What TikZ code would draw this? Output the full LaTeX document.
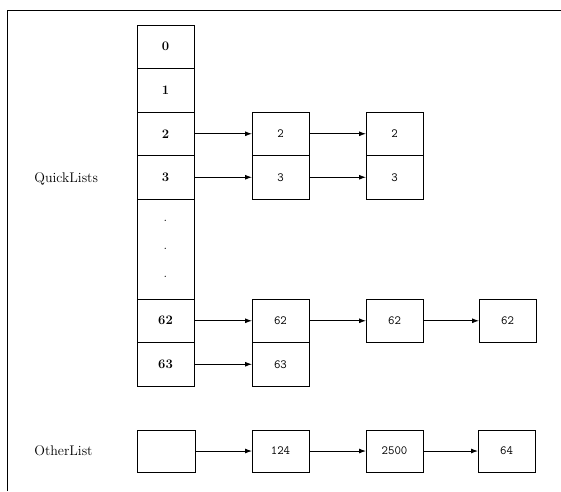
\documentclass[tikz,border=0pt]{standalone}
\usepackage{tikz}
\usetikzlibrary{arrows.meta, positioning}

\begin{document}
\begin{tikzpicture}[
    x=1pt, y=-1pt,
    every node/.style={outer sep=0pt},
    slot/.style={rectangle, draw=black, line width=1pt, minimum width=57pt, minimum height=43.5pt, inner sep=0pt, font=\fontsize{13}{15}\selectfont\bfseries},
    cell/.style={rectangle, draw=black, line width=1pt, minimum width=57pt, minimum height=43.5pt, inner sep=0pt, font=\fontsize{12.5}{14}\selectfont\ttfamily},
    listname/.style={font=\fontsize{14}{16}\selectfont, anchor=west},
    link/.style={-{Latex[length=7pt,width=5pt]}, line width=0.9pt}
]

% Rahmen und Seitengroesse
\useasboundingbox (0,0) rectangle (561,491);
\draw[line width=1pt] (7,491) -- (7,10) -- (561,10);

% Feld der QuickLists
\node[slot] (q0) at (165.5,46.75) {0};
\node[slot, below=0pt of q0] (q1) {1};
\node[slot, below=0pt of q1] (q2) {2};
\node[slot, below=0pt of q2] (q3) {3};
\node[slot, below=0pt of q3, minimum height=100pt, align=center, font=\fontsize{13}{15}\selectfont] (qdots) {.\\[13pt].\\[13pt].};
\node[slot, below=0pt of qdots] (q62) {62};
\node[slot, below=0pt of q62] (q63) {63};

% Listenelemente
\node[cell, right=58pt of q2] (n2a) {2};
\node[cell, below=0pt of n2a] (n3a) {3};
\node[cell, right=57pt of n2a] (n2b) {2};
\node[cell, below=0pt of n2b] (n3b) {3};

\node[cell, right=58pt of q62] (n62a) {62};
\node[cell, below=0pt of n62a] (n63a) {63};
\node[cell, right=57pt of n62a] (n62b) {62};
\node[cell, right=56pt of n62b] (n62c) {62};

% OtherList
\node[cell, minimum width=58pt, minimum height=42pt] (o0) at (166,451) {};
\node[cell, right=57pt of o0, minimum height=42pt] (o1) {124};
\node[cell, right=57pt of o1, minimum height=42pt] (o2) {2500};
\node[cell, right=55pt of o2, minimum height=42pt] (o3) {64};

% Beschriftungen
\node[listname] (lquick) at (31,179) {QuickLists};
\node[listname] (lother) at (31,451) {OtherList};

% Zeiger
\foreach \a/\b in {q2/n2a, q3/n3a, n2a/n2b, n3a/n3b, q62/n62a, q63/n63a, n62a/n62b, n62b/n62c, o0/o1, o1/o2, o2/o3} {
    \draw[link] (\a) -- (\b);
}

\end{tikzpicture}
\end{document}
